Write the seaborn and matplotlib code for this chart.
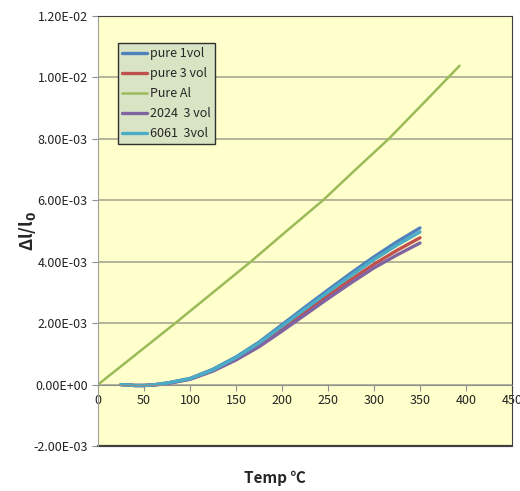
import matplotlib
matplotlib.use("Agg")
import matplotlib.pyplot as plt
import seaborn as sns
from matplotlib.ticker import FuncFormatter, MultipleLocator

sns.set_style("white")
plt.rcParams['font.family'] = ['Noto Sans CJK KR', 'DejaVu Sans']

# ---- data ----
temp_comp = [25, 30, 40, 50, 60, 75, 100, 125, 150, 175, 200, 225, 250, 275, 300, 325, 350]
pure_1vol = [0, -0.01e-3, -0.03e-3, -0.03e-3, -0.01e-3, 0.05e-3, 0.20e-3, 0.50e-3, 0.90e-3, 1.38e-3, 1.95e-3,
             2.52e-3, 3.08e-3, 3.63e-3, 4.16e-3, 4.65e-3, 5.10e-3]
pure_3vol = [0, -0.01e-3, -0.03e-3, -0.03e-3, -0.01e-3, 0.04e-3, 0.18e-3, 0.46e-3, 0.84e-3, 1.29e-3, 1.82e-3,
             2.36e-3, 2.90e-3, 3.42e-3, 3.92e-3, 4.37e-3, 4.78e-3]
al2024_3vol = [0, -0.01e-3, -0.03e-3, -0.03e-3, -0.02e-3, 0.03e-3, 0.17e-3, 0.44e-3, 0.80e-3, 1.23e-3, 1.74e-3,
               2.27e-3, 2.80e-3, 3.31e-3, 3.80e-3, 4.22e-3, 4.61e-3]
al6061_3vol = [0, -0.01e-3, -0.03e-3, -0.03e-3, -0.01e-3, 0.05e-3, 0.19e-3, 0.48e-3, 0.88e-3, 1.35e-3, 1.90e-3,
               2.46e-3, 3.01e-3, 3.55e-3, 4.07e-3, 4.54e-3, 4.97e-3]
temp_al = [0, 42, 84, 125, 166, 205, 244.5, 280, 316, 355, 393]
pure_al = [0, 1.0e-3, 2.0e-3, 3.0e-3, 4.0e-3, 5.0e-3, 6.0e-3, 7.0e-3, 8.0e-3, 9.2e-3, 10.38e-3]

series = [
    ("pure 1vol", temp_comp, pure_1vol, "#4F81BD", 2.4),
    ("pure 3 vol", temp_comp, pure_3vol, "#C0504D", 2.4),
    ("Pure Al", temp_al, pure_al, "#9BBB59", 1.8),
    ("2024  3 vol", temp_comp, al2024_3vol, "#8064A2", 2.4),
    ("6061  3vol", temp_comp, al6061_3vol, "#4BACC6", 2.4),
]

fig = plt.figure(figsize=(5.2, 4.91), dpi=100)
fig.patch.set_facecolor("white")
ax = fig.add_axes([98/520, 1-446/491, 414/520, 430/491])
ax.set_facecolor("#FFFFCC")

for name, xs, ys, col, lw in series:
    sns.lineplot(x=xs, y=ys, ax=ax, color=col, linewidth=lw, label=name, estimator=None)

ax.set_xlim(0, 450)
ax.set_ylim(-2e-3, 12e-3)
ax.yaxis.set_major_locator(MultipleLocator(2e-3))
ax.xaxis.set_major_locator(MultipleLocator(50))
ax.yaxis.set_major_formatter(FuncFormatter(lambda v, p: "{:.2E}".format(0.0 if abs(v) < 1e-12 else v)))
ax.grid(axis="y", color="#A8A890", linewidth=1.2)
ax.set_axisbelow(True)

ax.spines['bottom'].set_position(('data', 0))
ax.spines['bottom'].set_color("#909090")
ax.spines['left'].set_color("#A0A0A0")
ax.spines['top'].set_color("#404040")
ax.spines['right'].set_color("#404040")
ax.axhline(-2e-3, color="#404040", linewidth=1.6, clip_on=False)

ax.tick_params(axis='both', direction='out', length=4, color="#909090", labelsize=9, labelcolor="#222222")
ax.tick_params(axis='y', left=True)
ax.tick_params(axis='x', bottom=True, pad=3)

ax.set_xlabel("")
ax.set_ylabel("Δl/l$_\\mathbf{0}$", fontsize=12.5, fontweight="bold")
ax.yaxis.set_label_coords(-0.145, 0.5)

fig.text(275/520, 1-478/491, "Temp ℃", ha="center", va="center", fontsize=11, fontweight="bold")

leg = ax.legend(loc="upper left", bbox_to_anchor=(20/414, (446-43)/430), borderaxespad=0,
                frameon=True, fancybox=False, fontsize=9, handlelength=2.0, handletextpad=0.2,
                labelspacing=0.55, borderpad=0.35)
leg.get_frame().set_facecolor("#D8E4C4")
leg.get_frame().set_edgecolor("#303030")
leg.get_frame().set_alpha(1)
leg.get_frame().set_linewidth(1.0)

fig.savefig("out.png", dpi=100, facecolor="white")
